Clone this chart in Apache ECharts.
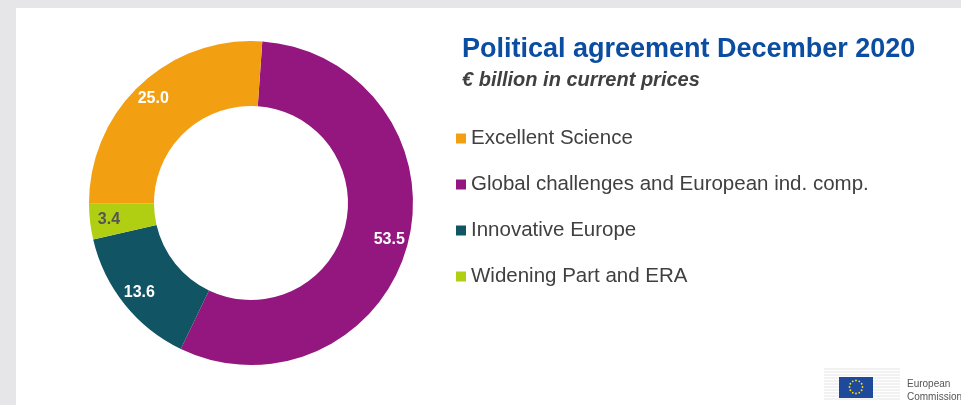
<!DOCTYPE html>
<html>
<head>
<meta charset="utf-8">
<script src="https://cdn.jsdelivr.net/npm/echarts@6/dist/echarts.min.js"></script>
<style>
  html, body { margin: 0; padding: 0; }
  #container { width: 961px; height: 405px; }
</style>
</head>
<body>
<div id="container"></div>
<script>
// programme parts (clockwise from the top)
var parts = ['Global challenges and European ind. comp.', 'Innovative Europe', 'Widening Part and ERA', 'Excellent Science'];
var amounts = [53.5, 13.6, 3.4, 25.0];
var colors = ['#93177e', '#115464', '#b1cf12', '#f29f12'];
var labelColors = ['#ffffff', '#ffffff', '#555555', '#ffffff'];
// legend order as on the slide
var legendOrder = ['Excellent Science', 'Global challenges and European ind. comp.', 'Innovative Europe', 'Widening Part and ERA'];

var dom = document.getElementById('container');
var myChart = echarts.init(dom);
var font = '"Liberation Sans", Arial, sans-serif';

var pieData = parts.map(function (p, i) {
    return { value: amounts[i], name: p, itemStyle: { color: colors[i] } };
});
var labelData = parts.map(function (p, i) {
    return {
        value: amounts[i], name: p,
        itemStyle: { color: 'rgba(0,0,0,0)' },
        label: { color: labelColors[i] }
    };
});

// EU logo bits
var stars = [];
for (var k = 0; k < 12; k++) {
    var a = k * Math.PI / 6;
    stars.push({
        type: 'circle',
        shape: { cx: 856 + 6.5 * Math.cos(a), cy: 387 + 6.5 * Math.sin(a), r: 0.9 },
        style: { fill: '#ffe000' }
    });
}
var buildingLines = [];
for (var j = 0; j < 11; j++) {
    buildingLines.push({
        type: 'line',
        shape: { x1: 824, y1: 369 + j * 3, x2: 900, y2: 369 + j * 3 },
        style: { stroke: '#e4e4e4', lineWidth: 1 }
    });
}

option = {
    backgroundColor: '#e6e6e8',
    graphic: [
        { type: 'rect', shape: { x: 16, y: 8, width: 945, height: 397 }, style: { fill: '#ffffff' }, z: -10 },
        { type: 'group', children: buildingLines.concat([
            { type: 'rect', shape: { x: 839, y: 377, width: 34, height: 21 }, style: { fill: '#1f4a9c' } }
        ]).concat(stars) },
        { type: 'text', left: 907, top: 378, style: { text: 'European\nCommission', fill: '#555555', font: '10px ' + font, lineHeight: 13 } }
    ],
    title: {
        text: 'Political agreement December 2020',
        subtext: '€ billion in current prices',
        left: 457,
        top: 31,
        itemGap: 7,
        textStyle: { color: '#0b4da1', fontSize: 27, fontWeight: 'bold', fontFamily: font },
        subtextStyle: { color: '#404040', fontSize: 20, fontWeight: 'bold', fontStyle: 'italic', fontFamily: font }
    },
    legend: {
        orient: 'vertical',
        left: 451,
        top: 123,
        icon: 'rect',
        itemWidth: 10,
        itemHeight: 10,
        itemGap: 25,
        selectedMode: false,
        data: legendOrder,
        textStyle: { color: '#404040', fontSize: 20.5, fontFamily: font }
    },
    series: [
        {
            name: 'Horizon Europe',
            type: 'pie',
            center: [251, 203],
            radius: [97, 162],
            startAngle: 86,
            clockwise: true,
            silent: true,
            label: { show: false },
            labelLine: { show: false },
            data: pieData
        },
        {
            name: 'labels',
            type: 'pie',
            center: [251, 203],
            radius: [121, 159],
            startAngle: 86,
            clockwise: true,
            silent: true,
            z: 5,
            label: {
                show: true,
                position: 'inside',
                fontSize: 16,
                fontWeight: 'bold',
                fontFamily: font,
                formatter: function (p) { return p.value.toFixed(1); }
            },
            labelLine: { show: false },
            data: labelData
        }
    ]
};
myChart.setOption(option, true);
</script>
</body>
</html>
